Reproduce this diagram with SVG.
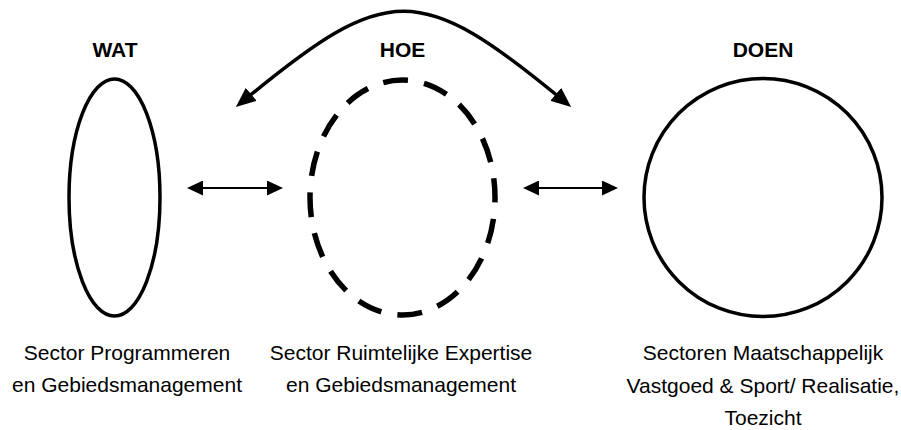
<svg xmlns="http://www.w3.org/2000/svg" width="901" height="430" viewBox="0 0 901 430">
  <style>
    .title { font-family: "Liberation Sans", Arial, sans-serif; font-size: 21px; font-weight: bold; fill: #000; text-anchor: middle; }
    .label { font-family: "Liberation Sans", Arial, sans-serif; font-size: 21px; fill: #000; text-anchor: middle; }
    .shape { fill: none; stroke: #000; stroke-width: 3.5; }
    .dashed { fill: none; stroke: #000; stroke-width: 5.5; stroke-dasharray: 25 16.37; stroke-dashoffset: 20; }
    .conn { fill: none; stroke: #000; stroke-width: 2; }
    .curve { fill: none; stroke: #000; stroke-width: 3.5; }
  </style>
  <defs>
    <marker id="head" viewBox="0 0 16 15" refX="13" refY="7.5" markerWidth="16" markerHeight="15" markerUnits="userSpaceOnUse" orient="auto-start-reverse">
      <path d="M0,0 L16,7.5 L0,15 Z" fill="#000"/>
    </marker>
    <marker id="bighead" viewBox="0 0 20 17" refX="12" refY="8.5" markerWidth="20" markerHeight="17" markerUnits="userSpaceOnUse" orient="auto-start-reverse">
      <path d="M0,0 L20,8.5 L0,17 Z" fill="#000"/>
    </marker>
  </defs>
  <rect width="901" height="430" fill="#fff"/>

  <g id="wat">
    <text class="title" x="115" y="57">WAT</text>
    <ellipse class="shape" cx="114.5" cy="197.5" rx="45.5" ry="118.5"/>
    <text class="label" x="127" y="360">Sector Programmeren</text>
    <text class="label" x="127" y="392">en Gebiedsmanagement</text>
  </g>

  <g id="hoe">
    <text class="title" x="402.5" y="57">HOE</text>
    <path class="dashed" d="M495,197.5 A92.5,117.5 0 0 1 310,197.5 A92.5,117.5 0 0 1 495,197.5 Z"/>
    <text class="label" x="401" y="360">Sector Ruimtelijke Expertise</text>
    <text class="label" x="401" y="392">en Gebiedsmanagement</text>
  </g>

  <g id="doen">
    <text class="title" x="763" y="57">DOEN</text>
    <circle class="shape" cx="763" cy="197.5" r="119"/>
    <text class="label" x="763" y="360">Sectoren Maatschappelijk</text>
    <text class="label" x="763" y="393">Vastgoed &amp; Sport/ Realisatie,</text>
    <text class="label" x="763" y="425">Toezicht</text>
  </g>

  <g id="connectors">
    <line class="conn" x1="190" y1="188" x2="280" y2="188" marker-start="url(#head)" marker-end="url(#head)"/>
    <line class="conn" x1="526" y1="188" x2="615" y2="188" marker-start="url(#head)" marker-end="url(#head)"/>
    <path class="curve" d="M242,102 C388,-19 419,-19 565,102" marker-start="url(#bighead)" marker-end="url(#bighead)"/>
  </g>
</svg>
